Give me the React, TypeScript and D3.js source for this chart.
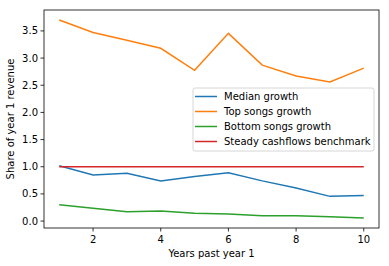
import React from 'react';
import * as d3 from 'd3';

const years = [1, 2, 3, 4, 5, 6, 7, 8, 9, 10];
const medianGrowth = [1.02, 0.85, 0.88, 0.74, 0.82, 0.89, 0.74, 0.61, 0.455, 0.47];
const topGrowth = [3.7, 3.47, 3.33, 3.18, 2.775, 3.455, 2.87, 2.67, 2.56, 2.815];
const bottomGrowth = [0.3, 0.235, 0.17, 0.185, 0.145, 0.13, 0.1, 0.1, 0.08, 0.055];
const steadyBenchmark = [1, 1, 1, 1, 1, 1, 1, 1, 1, 1];
const xTicks = [2, 4, 6, 8, 10];
const yTicks = [0, 0.5, 1, 1.5, 2, 2.5, 3, 3.5];

const series = [
  { name: 'Median growth', values: medianGrowth, color: '#1f77b4' },
  { name: 'Top songs growth', values: topGrowth, color: '#ff7f0e' },
  { name: 'Bottom songs growth', values: bottomGrowth, color: '#2ca02c' },
  { name: 'Steady cashflows benchmark', values: steadyBenchmark, color: '#d62728' },
];

const font = 'DejaVu Sans, sans-serif';

export default function App() {
  const left = 44, right = 379, top = 10, bottom = 228;

  const x = d3.scaleLinear().domain([0.55, 10.45]).range([left, right]);
  const y = d3.scaleLinear().domain([-0.1275, 3.885]).range([bottom, top]);

  const line = (vals: number[]) =>
    d3.line<number>()
      .x((_, i) => x(years[i]))
      .y((v) => y(v))(vals) || '';

  const legendX = 193, legendY = 88;

  return (
    <svg width={389} height={266} style={{ position: 'absolute', left: 0, top: 0 }} fontFamily={font}>
      <rect width={389} height={266} fill="#fff" />
      {series.map((s) => (
        <path key={s.name} d={line(s.values)} fill="none" stroke={s.color} strokeWidth={1.5} />
      ))}
      <rect x={left} y={top} width={right - left} height={bottom - top} fill="none" stroke="#000" strokeWidth={0.8} />
      {/* x axis */}
      {xTicks.map((t) => (
        <g key={t} transform={`translate(${x(t)},${bottom})`}>
          <line y2={3.5} stroke="#000" strokeWidth={0.8} />
          <text y={15} textAnchor="middle" fontSize={10} fill="#000">{t}</text>
        </g>
      ))}
      {/* y axis */}
      {yTicks.map((t) => (
        <g key={t} transform={`translate(${left},${y(t)})`}>
          <line x2={-3.5} stroke="#000" strokeWidth={0.8} />
          <text x={-6} dy="0.35em" textAnchor="end" fontSize={10} fill="#000">{t.toFixed(1)}</text>
        </g>
      ))}
      <text x={(left + right) / 2} y={257} textAnchor="middle" fontSize={10} fill="#000">Years past year 1</text>
      <text transform={`translate(14,${(top + bottom) / 2}) rotate(-90)`} textAnchor="middle" fontSize={10} fill="#000">
        Share of year 1 revenue
      </text>
      {/* legend */}
      <rect x={legendX} y={legendY} width={181} height={63} rx={2} fill="#fff" fillOpacity={0.8} stroke="#ccc" strokeWidth={0.8} />
      {series.map((s, i) => (
        <g key={s.name} transform={`translate(${legendX},${legendY + 8.5 + i * 15})`}>
          <line x1={2} x2={24} stroke={s.color} strokeWidth={1.5} />
          <text x={31} dy="0.35em" fontSize={10} fill="#000">{s.name}</text>
        </g>
      ))}
    </svg>
  );
}
